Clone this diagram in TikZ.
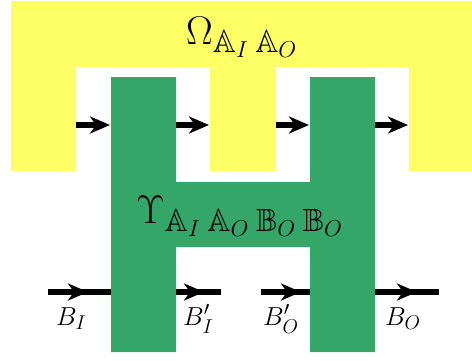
\RequirePackage{fix-cm}
\documentclass[tikz,border=0pt]{standalone}
\usepackage{amssymb}
\usetikzlibrary{arrows.meta}
\DeclareMathSizes{40}{40}{32}{23}
\DeclareMathSizes{26}{26}{20}{15}
\definecolor{yel}{RGB}{255,255,102}
\definecolor{grn}{RGB}{52,167,104}
\newcommand{\gapsub}{\mkern4mu}
\tikzset{
  wire/.style={line width=6pt},
  tipw/.style={line width=6pt,-{Stealth[length=20pt,width=17pt,inset=6pt]}},
  biglab/.style={inner sep=0pt,anchor=base west,font=\fontsize{40}{44}\selectfont},
  lab/.style={inner sep=0pt,anchor=base west,font=\fontsize{26}{30}\selectfont}
}
\begin{document}
\begin{tikzpicture}[x=1pt,y=-1pt]
\useasboundingbox (0,0) rectangle (472,360);
% yellow comb
\fill[yel] (11,1) -- (472,1) -- (472,171) -- (409,171) -- (409,67) -- (276,67) -- (276,171)
  -- (210,171) -- (210,67) -- (76,67) -- (76,171) -- (11,171) -- cycle;
% top wires
\coordinate (t1a) at (76,125); \coordinate (t1b) at (110,125);
\coordinate (t2a) at (176,125); \coordinate (t2b) at (209,125);
\coordinate (t3a) at (276,125); \coordinate (t3b) at (309,125);
\coordinate (t4a) at (375,125); \coordinate (t4b) at (408,125);
\draw[tipw] (t1a) -- (t1b);
\draw[tipw] (t2a) -- (t2b);
\draw[tipw] (t3a) -- (t3b);
\draw[tipw] (t4a) -- (t4b);
% green H
\fill[grn] (111,77) -- (176,77) -- (176,182) -- (310,182) -- (310,77) -- (375,77) -- (375,352)
  -- (310,352) -- (310,247) -- (176,247) -- (176,352) -- (111,352) -- cycle;
% bottom wires
\coordinate (b1a) at (48,292); \coordinate (b1m) at (88,292); \coordinate (b1b) at (111,292);
\coordinate (b2a) at (176,292); \coordinate (b2m) at (204,292); \coordinate (b2b) at (221,292);
\coordinate (b3a) at (261,292); \coordinate (b3m) at (301,292); \coordinate (b3b) at (310,292);
\coordinate (b4a) at (375,292); \coordinate (b4m) at (417,292); \coordinate (b4b) at (439,292);
\draw[wire] (b1a) -- (b1b); \draw[tipw] (b1a) -- (b1m);
\draw[wire] (b2a) -- (b2b); \draw[tipw] (b2a) -- (b2m);
\draw[wire] (b3a) -- (b3b); \draw[tipw] (b3a) -- (b3m);
\draw[wire] (b4a) -- (b4b); \draw[tipw] (b4a) -- (b4m);
% labels
\node[biglab] (om) at (186,44) {$\Omega_{\mathbb{A}_I\gapsub\mathbb{A}_O}$};
\node[biglab] (up) at (136,223) {$\Upsilon_{\mathbb{A}_I\gapsub\mathbb{A}_O\gapsub\mathbb{B}_O\gapsub\mathbb{B}_O}$};
\node[lab] (lb1) at (56,325) {$B_I$};
\node[lab] (lb2) at (183,325) {$B'_I$};
\node[lab] (lb3) at (263,325) {$B'_O$};
\node[lab] (lb4) at (385,325) {$B_O$};
\end{tikzpicture}
\end{document}
